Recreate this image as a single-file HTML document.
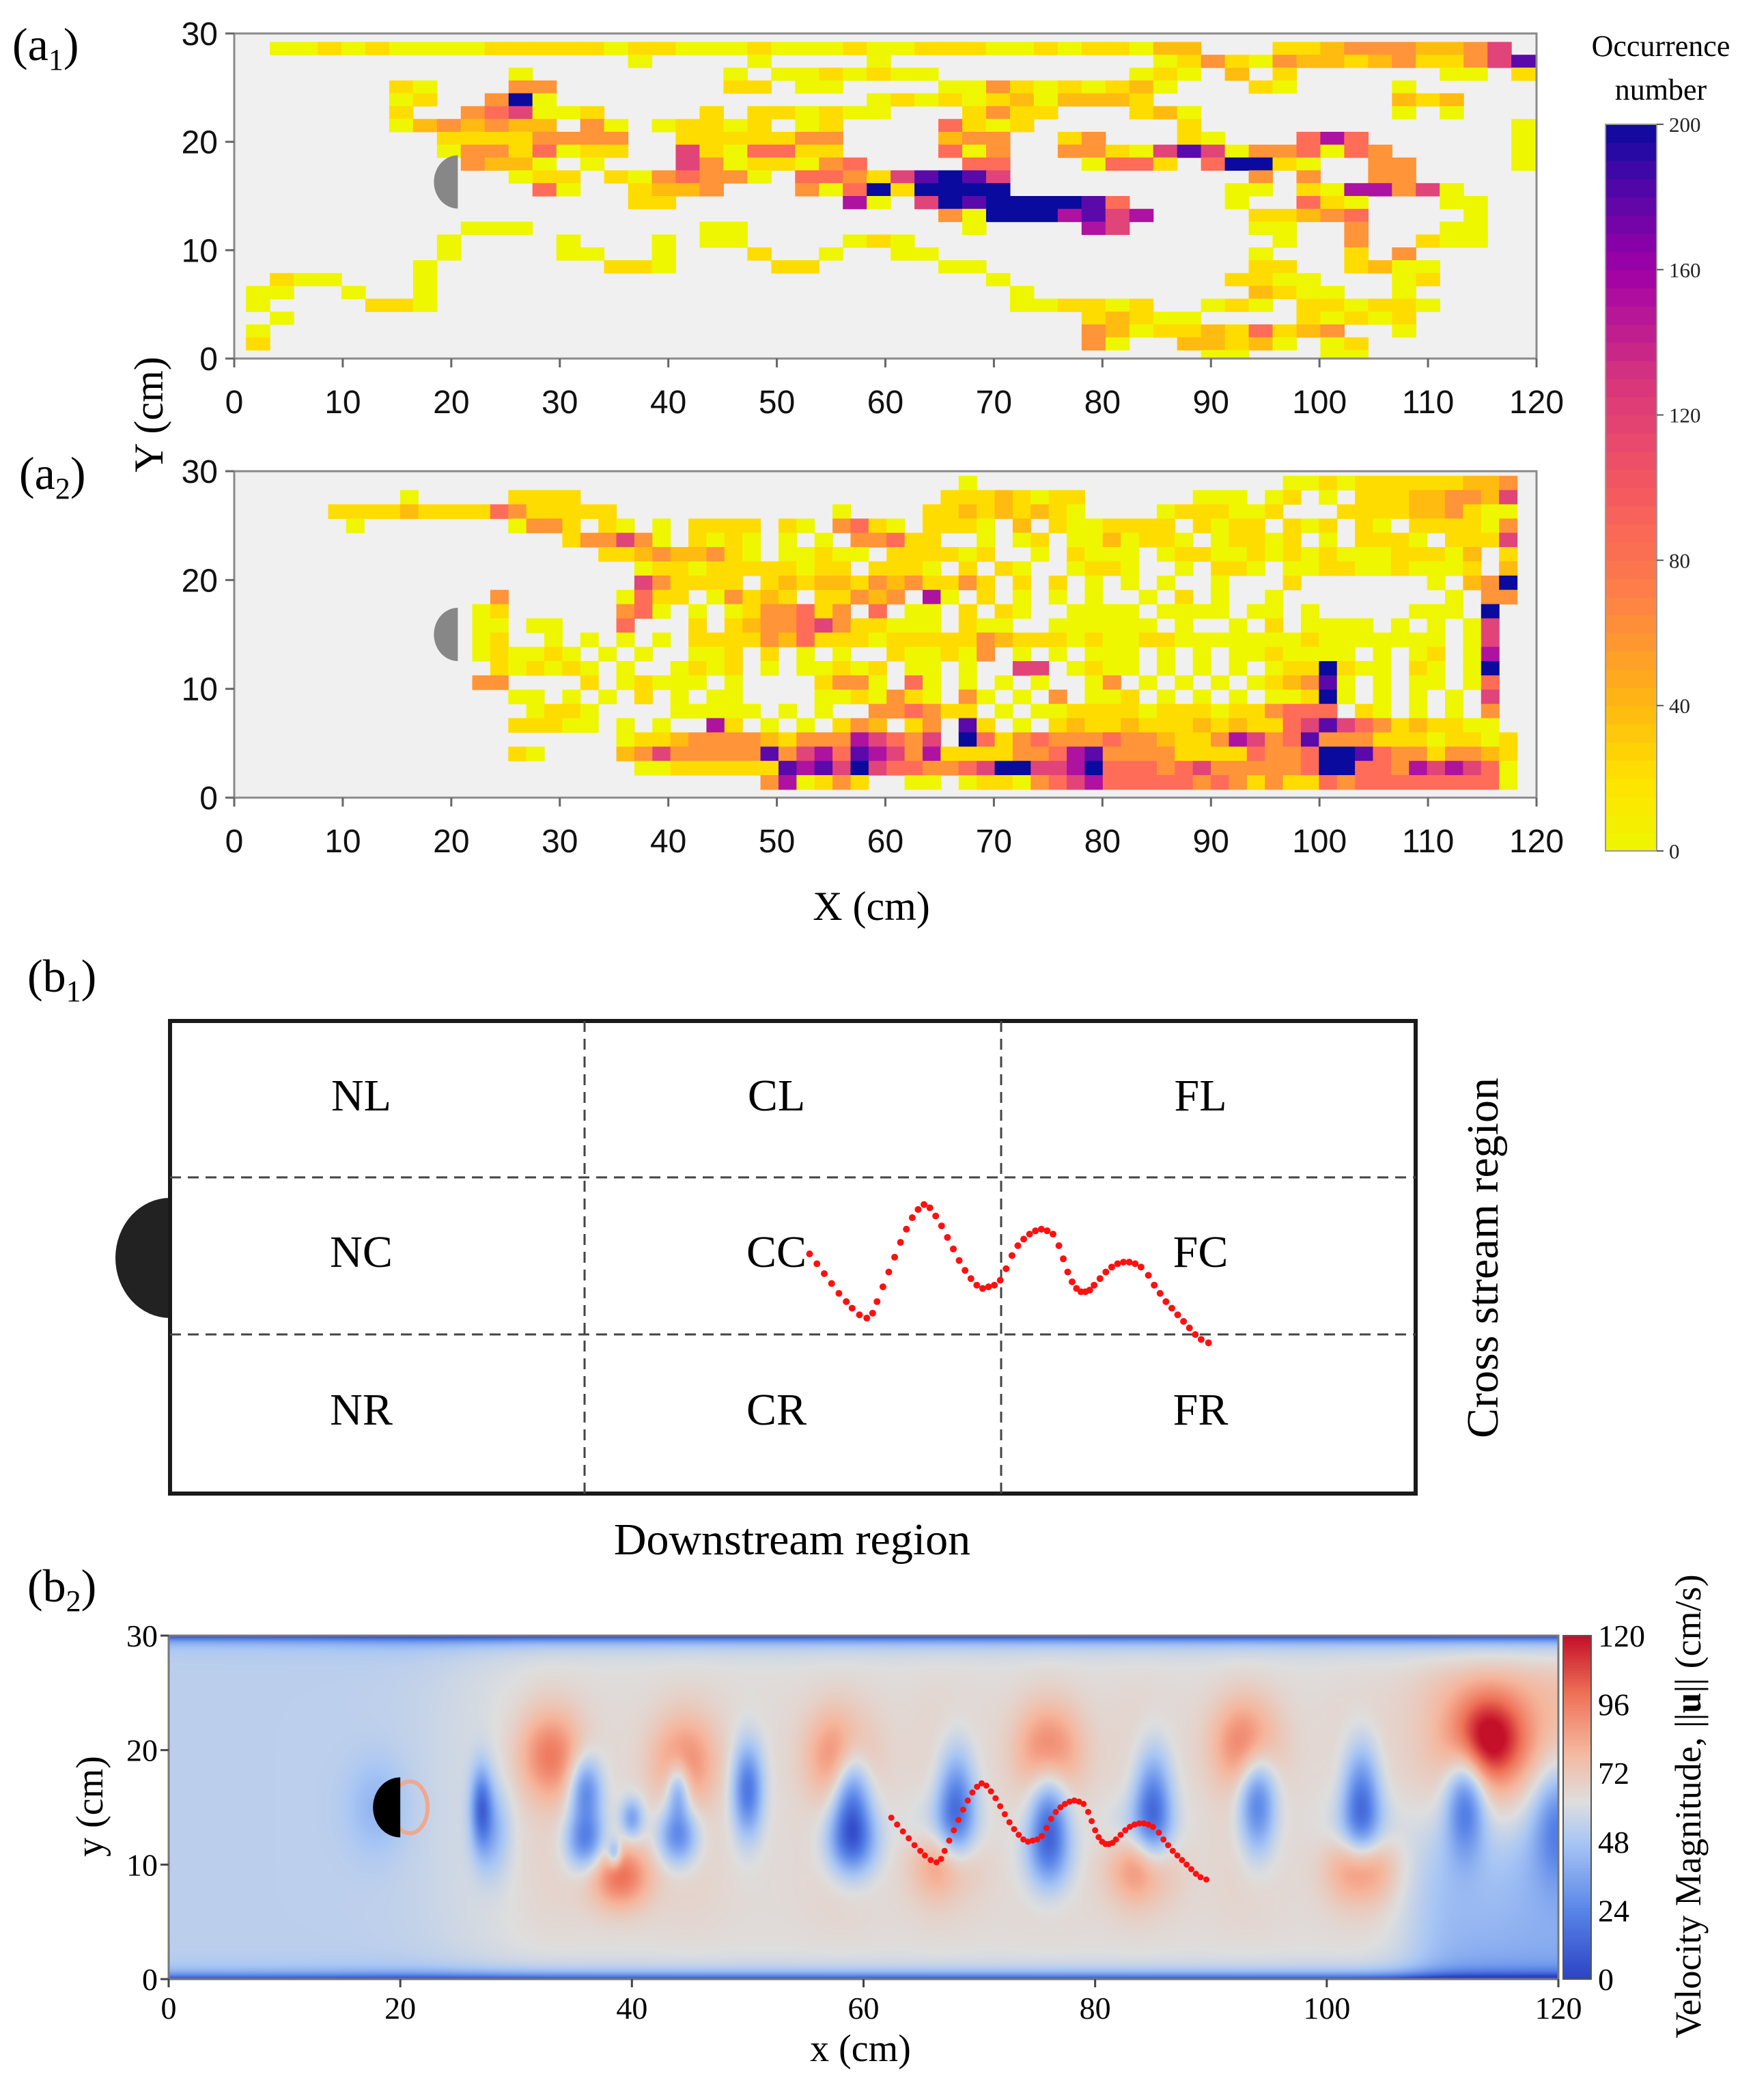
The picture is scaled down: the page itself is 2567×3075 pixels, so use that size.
<!DOCTYPE html>
<html><head><meta charset="utf-8">
<style>
html,body{margin:0;padding:0;background:#fff;}
#wrap{position:relative;width:2567px;height:3075px;overflow:hidden;}
#field{position:absolute;left:247px;top:2395px;}
#svg{position:absolute;left:0;top:0;}
text{font-family:"Liberation Serif",serif;}
.sans{font-family:"Liberation Sans",sans-serif;}
</style></head>
<body>
<div id="wrap">
<canvas id="field" width="2035" height="503"></canvas>
<svg id="svg" width="2567" height="3075" viewBox="0 0 2567 3075" xmlns="http://www.w3.org/2000/svg">
<text x="18" y="88" font-size="68">(a<tspan font-size="44" dy="14">1</tspan><tspan dy="-14">)</tspan></text>
<text x="28" y="716" font-size="68">(a<tspan font-size="44" dy="14">2</tspan><tspan dy="-14">)</tspan></text>
<text x="1276" y="1347" font-size="60" text-anchor="middle">X (cm)</text>
<text x="238" y="607" font-size="60" text-anchor="middle" transform="rotate(-90 238 607)">Y (cm)</text>
<text x="2432" y="82" font-size="44" text-anchor="middle">Occurrence</text>
<text x="2432" y="146" font-size="44" text-anchor="middle">number</text>
<text x="40" y="1452" font-size="68">(b<tspan font-size="44" dy="14">1</tspan><tspan dy="-14">)</tspan></text>
<text x="40" y="2345" font-size="68">(b<tspan font-size="44" dy="14">2</tspan><tspan dy="-14">)</tspan></text>
<g id="b1">
<path d="M249 1754 A80 88 0 0 0 249 1930 Z" fill="#222"/>
<rect x="249" y="1495" width="1824" height="692" fill="none" stroke="#1a1a1a" stroke-width="6"/>
<line x1="856" y1="1495" x2="856" y2="2187" stroke="#444" stroke-width="3" stroke-dasharray="16 10"/>
<line x1="1466" y1="1495" x2="1466" y2="2187" stroke="#444" stroke-width="3" stroke-dasharray="16 10"/>
<line x1="249" y1="1724" x2="2073" y2="1724" stroke="#444" stroke-width="3" stroke-dasharray="16 10"/>
<line x1="249" y1="1954" x2="2073" y2="1954" stroke="#444" stroke-width="3" stroke-dasharray="16 10"/>
<g font-size="66" text-anchor="middle">
<text x="529" y="1626">NL</text>
<text x="1137" y="1626">CL</text>
<text x="1758" y="1626">FL</text>
<text x="529" y="1855">NC</text>
<text x="1137" y="1855">CC</text>
<text x="1758" y="1855">FC</text>
<text x="529" y="2086">NR</text>
<text x="1137" y="2086">CR</text>
<text x="1758" y="2086">FR</text>
</g>
<text x="1160" y="2276" font-size="66" text-anchor="middle">Downstream region</text>
<text x="2171" y="1842" font-size="66" text-anchor="middle" transform="rotate(-90 2171 1842) translate(0 22)">Cross stream region</text>
</g>
<text x="1260" y="3018" font-size="56" text-anchor="middle">x (cm)</text>
<text x="150" y="2645" font-size="56" text-anchor="middle" transform="rotate(-90 150 2645)">y (cm)</text>
<text x="2490" y="2645" font-size="54" text-anchor="middle" transform="rotate(-90 2490 2645)">Velocity Magnitude, ||<tspan font-weight="bold">u</tspan>|| (cm/s)</text>
</svg>
</div>
<script>
// ---------- data ----------
const a1Segments = [
[0,1,"112121111222221221112111211222112122133"],[0,43,"2234443346"],
[1,16,"1"],[1,21,"1"],[1,26,"1"],[1,38,"1242143323422468"],
[2,11,"1"],[2,20,"1"],[2,22,"1121211"],[2,37,"121"],[2,41,"3"],[2,43,"2"],[2,50,"11"],[2,53,"2"],
[3,6,"21"],[3,11,"44"],[3,20,"22"],[3,23,"11"],[3,29,"1142121231"],[3,42,"21"],[3,48,"1"],
[4,6,"12"],[4,10,"491"],[4,26,"12121"],[4,31,"2313332"],[4,48,"323"],
[5,6,"2"],[5,9,"4561"],[5,13,"12"],[5,19,"2"],[5,21,"221211"],[5,30,"2422"],[5,37,"231"],[5,48,"1"],[5,50,"1"],
[6,6,"1343433"],[6,14,"41"],[6,17,"12212"],[6,23,"12"],[6,29,"5212"],[6,39,"2"],[6,53,"1"],
[7,8,"22224444"],[7,18,"2222244"],[7,29,"344"],[7,34,"24"],[7,39,"21"],[7,44,"575"],[7,53,"1"],
[8,8,"14425122"],[8,18,"6215522"],[8,29,"514"],[8,34,"44216861445154"],[8,53,"1"],
[9,9,"4331"],[9,14,"1"],[9,18,"64122145"],[9,30,"55"],[9,35,"1552.59921"],[9,47,"44"],[9,53,"1"],
[10,11,"122"],[10,15,"2145441"],[10,23,"554268986"],[10,42,"4.4"],[10,47,"44"],
[11,12,"51"],[11,16,"2334"],[11,23,"415929999"],[11,41,"11.2177461"],
[12,16,"22"],[12,25,"71.698999985"],[12,41,"1"],[12,44,"521"],[12,50,"11"],
[13,29,"419997867"],[13,42,"22345"],[13,51,"1"],
[14,9,"111"],[14,19,"11"],[14,30,"1"],[14,35,"76"],[14,42,"11"],[14,46,"4"],[14,50,"11"],
[15,8,"1"],[15,13,"1"],[15,17,"1.11"],[15,25,"121"],[15,43,"1"],[15,46,"4"],[15,49,"211"],
[16,8,"1"],[16,13,"11"],[16,17,"1"],[16,21,"2"],[16,24,"1"],[16,27,"11"],[16,42,"1"],[16,46,"2"],[16,48,"4"],
[17,7,"1"],[17,15,"221"],[17,22,"22"],[17,29,"11"],[17,42,"22"],[17,46,"2311"],
[18,1,"211"],[18,7,"1"],[18,31,"1"],[18,41,"2211"],[18,48,"12"],
[19,0,"11"],[19,4,"1"],[19,7,"1"],[19,32,"1"],[19,42,"3211"],[19,48,"1"],
[20,0,"1"],[20,5,"221"],[20,32,"112212"],[20,40,"121"],[20,44,"221221"],
[21,1,"1"],[21,35,"23211"],[21,44,"21212"],
[22,0,"1"],[22,35,"43122325234"],[22,48,"1"],
[23,0,"2"],[23,35,"41..33231.12"],
[24,40,"11"],[24,45,"11"]
];
const a2Segments = [
[0,35,"1"],[0,53,"1121222222334"],
[1,4,"1"],[1,10,"2222"],[1,34,"22232122"],[1,48,"111"],[1,52,"12.1"],[1,57,"222334436"],
[2,0,"2222322225422222"],[2,28,"1"],[2,33,"223232321"],[2,46,"1222112"],[2,56,"2222334211"],
[3,0,".1........1|442.21.1.22|22.21.4521.|2221.3.2112|222.2122.21|2.21.222214"],
[4,0,"...........|..244641.21|21.1.1.4452|2..1.12.113|1221.12212.|1.2221.2226"],
[5,0,"...........|....2234334|21.11211.22|2212..1.211|1.122112121|211122213.2"],
[6,0,"...........|......12212|2222122.222|1.2.21..122|1..1.221.11|221121112.3"],
[7,0,"...........|......64222|2.232332434|2242.2.2.1.|1.1..1...2.|......1.349"],
[8,0,".........4.|.....1522.1|4232.22434.|71.2.1.1.1.|.1.2.1..1..|.......1.44"],
[9,0,"........12.|.....451.1.|1244524.5.1|1.2.21..111|1.1111.11.1|.....111.9."],
[10,0,"........11.|11...5...2.|23445642211|1.211..1111|11.1..1.2.1|111.1.1.16."],
[11,0,"........12.|.1.1.1.1.22|22435222122|22243222121|12211111112|1111111.16."],
[12,0,"........121|121.1.1..11|2.2.1.1..21|1214.1.1.11|1.1.1.11211|11.1.12.17."],
[13,0,".........21|2121.1..121|2.1.11212.1|1.1..66.121|1.1.1.1.122|9211.21.19."],
[14,0,"........44.|...2.12111.|1....2441.5|1.1.1.1..14|.1.1.1.1234|81.1.11.15."],
[15,0,"..........1|1.1.1.2.1.1|1....112142|1.41.1.4.11|2.1.1.1.112|91.1.1.1.6."],
[16,0,"...........|1221....111|11.1.1..445|422.1.11222|21222122455|5.21.1.1.4."],
[17,0,"..........2|2211.1.1..7|2.1.1.243.2|4.82.1.2322|32223232256|8654232211."],
[18,0,"...........|.....122344|44324447654|6.952454445|44322476458|44422212212"],
[19,0,"..........2|1....346444|44846758764|72222445784|44422225445|99854424432"],
[20,0,"...........|......11222|22287869655|44569966795|55456444445|99554767651"],
[21,0,"...........|...........|..471242..1|1.122145675|55554542422|54555555551"]
];
const heatLevels = [".","1","2","3","4","5","6","7","8","9"];
const heatColors = ["none","#eef700","#ffdc00","#ffbb10","#ff9438","#ff6c58","#e04479","#ae12a0","#5a0aaa","#0a0a9e"];
const aXTicks = [0,10,20,30,40,50,60,70,80,90,100,110,120];
const aYTicks = [0,10,20,30];
const cbATicks = [0,40,80,120,160,200];
const bXTicks = [0,20,40,60,80,100,120];
const bYTicks = [0,10,20,30];
const cbBTicks = [0,24,48,72,96,120];
const trajX = [62.4,62.9,63.4,63.9,64.4,64.9,65.3,65.8,66.3,66.7,67.0,67.4,67.8,68.2,68.6,69.0,69.4,69.8,70.2,70.6,71.0,71.4,71.8,72.2,72.6,73.0,73.4,73.8,74.2,74.6,75.0,75.4,75.8,76.2,76.6,77.0,77.4,77.8,78.2,78.6,79.0,79.4,79.7,80.0,80.3,80.6,80.9,81.2,81.5,81.8,82.2,82.6,83.0,83.4,83.8,84.2,84.6,85.0,85.5,85.9,86.3,86.7,87.1,87.5,87.9,88.3,88.7,89.1,89.6];
const trajY = [14.1,13.5,12.9,12.3,11.7,11.2,10.8,10.4,10.2,10.5,11.2,12.1,13.0,13.9,14.8,15.6,16.3,16.8,17.1,16.9,16.4,15.8,15.1,14.4,13.7,13.1,12.6,12.2,12.0,12.1,12.2,12.5,13.2,14.0,14.6,15.0,15.3,15.5,15.6,15.5,15.3,14.6,13.8,13.0,12.4,12.0,11.8,11.8,11.9,12.2,12.6,13.0,13.3,13.5,13.6,13.6,13.5,13.3,12.8,12.2,11.7,11.2,10.8,10.4,10.0,9.6,9.2,8.9,8.7];
const blobX  = [33,44.5,58,76,93,114,39,67,84,103, 27,36,40,44,50,59,68,76,85,94,103,112,120,36,44,59,76,38.5,18, 28,67,84,103];
const blobY  = [19.5,19,19.5,20,20.5,21,9,10.5,10,10, 15,16.5,14,16.5,16.5,16,15,14,15,15.5,15.5,15.5,14,12,12.5,12,11,11,15, 13,13,13,13];
const blobAmp= [30,25,28,28,30,48,36,28,30,32, -40,-40,-30,-35,-45,-45,-45,-40,-45,-45,-45,-45,-35,-40,-40,-40,-25,-30,-12, -20,-18,-18,-18];
const blobSx = [2.8,2.8,2.8,2.8,2.8,3.2,2.6,2.7,2.7,2.8, 0.9,1.4,1.0,1.0,1.3,1.6,1.6,1.6,1.6,1.6,1.6,1.7,2.2,1.7,1.7,2.2,2.2,0.6,2.5, 1.5,3,3,3];
const blobSy = [3.8,3.8,3.8,3.8,3.8,3.8,2.8,3.2,3.2,3.2, 3.5,3,1.8,2.5,4,4.5,5,4.5,5,4.5,5,4.5,5,2.5,2.5,3,3.5,1.2,4, 4,3,3,3];
const bandX = [33,45,58,67,76,84,93,103,114];

// ---------- helpers ----------
const NS = "http://www.w3.org/2000/svg";
const svg = document.getElementById("svg");
function el(tag, attrs, parent){
  const e = document.createElementNS(NS, tag);
  for (const k in attrs) e.setAttribute(k, attrs[k]);
  (parent||svg).appendChild(e);
  return e;
}

// ---------- panel a ----------
function drawHeat(box, segs, x0, w, ytop, h, name, disc){
  const X = v => box.l + (v/120)*(box.r-box.l);
  const Y = v => box.b - (v/30)*(box.b-box.t);
  const g = el("g", {});
  
  
  const bg = el("rect", {x:box.l, y:box.t, width:box.r-box.l, height:box.b-box.t, fill:"#f0f0f0"}, g);
  
  
  segs.forEach(s => {
    const str = s[2].replace(/\|/g,"");
    for (let i=0;i<str.length;i++){
      const lv = heatLevels.indexOf(str[i]);
      if (lv<=0) continue;
      const c = s[1]+i;
      const xl = X(x0+c*w), xr = X(x0+(c+1)*w);
      const yt = Y(ytop - s[0]*h), yb = Y(ytop-(s[0]+1)*h);
      if (xl >= box.r) continue;
      const r = el("rect", {x:xl, y:yt, width:Math.min(xr,box.r)-xl+0.6, height:Math.min(yb,box.b)-yt+0.6, fill:heatColors[lv]}, g);
      
      
    }
  });
  const cx = X(20.6), cy = Y(disc), rx = 35, ry = 39;
  const d = el("path", {d:`M${cx} ${cy-ry} A${rx} ${ry} 0 0 0 ${cx} ${cy+ry} Z`, fill:"#878787"}, g);
  
  
  const fr = el("rect", {x:box.l, y:box.t, width:box.r-box.l, height:box.b-box.t, fill:"none", stroke:"#8a8a8a", "stroke-width":3}, g);
  
  
  aXTicks.forEach(t => {
    const tk = el("line", {x1:X(t), x2:X(t), y1:box.b, y2:box.b+13, stroke:"#666", "stroke-width":3}, g);
    
    
    const lb = el("text", {x:X(t), y:box.b+80, "font-size":48, "text-anchor":"middle", class:"sans", fill:"#111"}, g);
    lb.textContent = t;
    
    
  });
  aYTicks.forEach(t => {
    const tk = el("line", {x1:box.l-13, x2:box.l, y1:Y(t), y2:Y(t), stroke:"#666", "stroke-width":3}, g);
    
    
    const lb = el("text", {x:box.l-24, y:Y(t)+17, "font-size":48, "text-anchor":"end", class:"sans", fill:"#111"}, g);
    lb.textContent = t;
    
    
  });
}
drawHeat({l:343,r:2250,t:49,b:525}, a1Segments, 1.08, 2.2, 29.22, 1.185, "heatmap-a1", 16.3);
drawHeat({l:343,r:2250,t:690,b:1168}, a2Segments, 8.65, 1.66, 29.58, 1.31, "heatmap-a2", 15.0);

(function(){
  const stops = [[0,[238,247,0]],[20,[255,226,0]],[40,[255,184,16]],[70,[255,128,70]],[100,[244,88,96]],[130,[214,52,124]],[160,[160,0,168]],[185,[72,8,168]],[200,[10,10,158]]];
  const col = v => { for (let i=1;i<stops.length;i++){ if (v<=stops[i][0]){ const a=stops[i-1],b=stops[i],f=(v-a[0])/(b[0]-a[0]); return "rgb("+a[1].map((c,j)=>Math.round(c+(b[1][j]-c)*f)).join(",")+")"; } } return "rgb(10,10,158)"; };
  const L=2351,R=2426,T=182,B=1246;
  const Y = v => B-(v/200)*(B-T);
  const g = el("g", {});
  
  
  for (let v=0; v<200; v+=5){
    const r = el("rect", {x:L, y:Y(v+5), width:R-L, height:Y(v)-Y(v+5)+0.8, fill:col(v+2.5)}, g);
    
    
  }
  const f = el("rect", {x:L, y:T, width:R-L, height:B-T, fill:"none", stroke:"#999", "stroke-width":2}, g);
  
  
  cbATicks.forEach(t => {
    const tk = el("line", {x1:R, x2:R+10, y1:Y(t), y2:Y(t), stroke:"#555", "stroke-width":2}, g);
    
    
    const lb = el("text", {x:R+18, y:Y(t)+11, "font-size":31, fill:"#222"}, g);
    lb.textContent = t;
    
    
  });
})();

(function(){
  const g = el("g", {});
  
  
  const s = 1.9595;
  trajX.forEach((x,i) => {
    const px = (605 + (x-62.4)*10.96)*s, py = (937 - (trajY[i]-14.1)*12.3)*s;
    const c = el("circle", {cx:px, cy:py, r:5, fill:"#ff1010"}, g);
    
    
  });
})();

// ---------- panel b2 ----------
const B2 = {l:247, r:2282, t:2395, b:2898};
const bx = v => B2.l + v/120*(B2.r-B2.l);
const by = v => B2.b - v/30*(B2.b-B2.t);
const cmStops = [[0,[44,66,196]],[24,[88,132,232]],[48,[168,198,244]],[62,[222,222,222]],[80,[245,182,156]],[100,[238,112,86]],[120,[196,16,40]]];
function cmap(v){
  v = Math.max(0,Math.min(120,v));
  for (let i=1;i<cmStops.length;i++){ if (v<=cmStops[i][0]){ const a=cmStops[i-1],b=cmStops[i],f=(v-a[0])/(b[0]-a[0]); return a[1].map((c,j)=>c+(b[1][j]-c)*f); } }
  return cmStops[cmStops.length-1][1];
}
(function(){
  const cv = document.getElementById("field");
  const ctx = cv.getContext("2d");
  const W = cv.width, H = cv.height;
  const img = ctx.createImageData(W,H);
  const sig = z => 1/(1+Math.exp(-z));
  for (let py=0; py<H; py++){
    const y = 30 - (py+0.5)/H*30;
    for (let px=0; px<W; px++){
      const x = (px+0.5)/W*120;
      let v = 53 + 11*sig((x-25)/3);
      bandX.forEach(bxv => { const dx=(x-bxv)/3.0, dy=(y-15)/11; v += 4*Math.exp(-dx*dx-dy*dy*dy*dy); });
      for (let k=0;k<blobX.length;k++){
        const dx=(x-blobX[k])/blobSx[k], dy=(y-blobY[k])/blobSy[k];
        const q = dx*dx+dy*dy; if (q<30) v += blobAmp[k]*Math.exp(-q);
      }
      v -= 24*sig((x-108)/1.5)*sig((13-y)/2);
      v += 14*sig((x-108)/1.5)*sig((y-16)/2)*sig((27-y)/0.8);
      v -= 55*Math.exp(-(30-y)/0.5) + 55*Math.exp(-y/0.5);
      v -= 14*Math.exp(-(30-y)/1.6)*sig((x-20)/4) + 10*Math.exp(-y/1.6)*sig((x-20)/4);
      const c = cmap(v);
      const o = (py*W+px)*4;
      img.data[o]=c[0]; img.data[o+1]=c[1]; img.data[o+2]=c[2]; img.data[o+3]=255;
    }
  }
  ctx.putImageData(img,0,0);
})();
(function(){
  const g = el("g", {});
  
  
  const cx = bx(20), cy = by(15);
  const ring = el("ellipse", {cx:cx+14, cy:cy, rx:26, ry:38, fill:"none", stroke:"#f0a88e", "stroke-width":6}, g);
  
  
  const d = el("path", {d:`M${cx} ${cy-44} A40 44 0 0 0 ${cx} ${cy+44} Z`, fill:"#000"}, g);
  
  
  trajX.forEach((x,i) => {
    const c = el("circle", {cx:bx(x), cy:by(trajY[i]), r:4.5, fill:"#ff1010"}, g);
    
    
  });
  const f = el("rect", {x:B2.l, y:B2.t, width:B2.r-B2.l, height:B2.b-B2.t, fill:"none", stroke:"#777", "stroke-width":3}, g);
  
  
  bXTicks.forEach(t => {
    const tk = el("line", {x1:bx(t), x2:bx(t), y1:B2.b, y2:B2.b+12, stroke:"#444", "stroke-width":3}, g);
    
    
    const lb = el("text", {x:bx(t), y:B2.b+58, "font-size":46, "text-anchor":"middle"}, g);
    lb.textContent = t;
    
    
  });
  bYTicks.forEach(t => {
    const tk = el("line", {x1:B2.l-12, x2:B2.l, y1:by(t), y2:by(t), stroke:"#444", "stroke-width":3}, g);
    
    
    const lb = el("text", {x:B2.l-16, y:by(t)+16, "font-size":46, "text-anchor":"end"}, g);
    lb.textContent = t;
    
    
  });
  const L=2289, R=2330;
  const Y = v => B2.b - v/120*(B2.b-B2.t);
  for (let v=0; v<120; v+=1){
    const c = cmap(v+0.5).map(Math.round);
    const r = el("rect", {x:L, y:Y(v+1), width:R-L, height:Y(v)-Y(v+1)+0.8, fill:`rgb(${c.join(",")})`}, g);
    
    
  }
  const cf = el("rect", {x:L, y:B2.t, width:R-L, height:B2.b-B2.t, fill:"none", stroke:"#555", "stroke-width":2}, g);
  
  
  cbBTicks.forEach(t => {
    const lb = el("text", {x:R+10, y:Y(t)+16, "font-size":46}, g);
    lb.textContent = t;
    
    
  });
})();
</script>
</body></html>
